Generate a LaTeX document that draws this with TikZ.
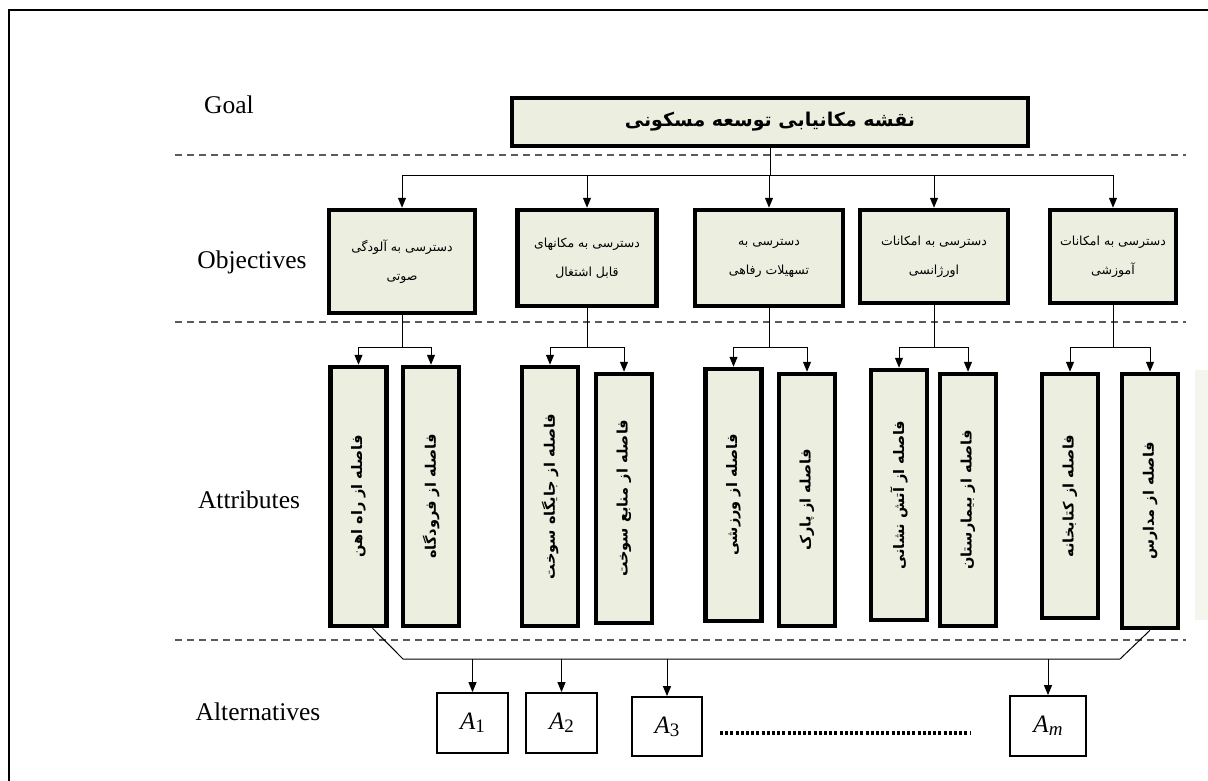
\documentclass[tikz,border=0pt]{standalone}
\usepackage{fontspec}
\setmainfont{Liberation Serif}
\newfontfamily\fa[Script=Arabic]{DejaVu Sans}
\TeXXeTstate=1
\usetikzlibrary{arrows.meta,calc}
\definecolor{boxfill}{RGB}{236,239,224}
\definecolor{dashgray}{RGB}{90,90,90}
\tikzset{
  x=1pt, y=-1pt,
  goalbox/.style={draw, line width=4.5pt, fill=boxfill, inner sep=0pt, minimum width=516pt, minimum height=48pt, font=\fa\bfseries\fontsize{19}{22}\selectfont},
  objbox/.style={draw, line width=4.5pt, fill=boxfill, inner sep=0pt, align=center, font=\fa\fontsize{12.5}{29}\selectfont},
  attbox/.style={draw, line width=4.5pt, fill=boxfill, inner sep=0pt, minimum width=56pt},
  atttext/.style={rotate=90, font=\fa\bfseries\fontsize{14.5}{16}\selectfont},
  altbox/.style={draw, line width=1.8pt, fill=white, inner sep=0pt, font=\fontsize{25}{27}\selectfont},
  lvl/.style={font=\fontsize{25.5}{28}\selectfont},
  sep/.style={dashgray, line width=1.4pt, dash pattern=on 7pt off 5pt},
  conn/.style={line width=1pt},
  arr/.style={line width=1pt, -{Triangle[width=8pt,length=10pt]}}
}
\newcommand{\RL}[1]{\beginR #1\endR}
\newcommand{\Alt}[1]{\textit{A}\raisebox{-0.25ex}{\fontsize{19}{21}\selectfont #1}}
\begin{document}
\begin{tikzpicture}
\useasboundingbox (0,0) rectangle (1208,780);
\fill[white] (0,0) rectangle (1208,780);
% frame
\draw[line width=2.5pt] (9,785) -- (9,10) -- (1215,10);
% faint partial box at right
\fill[boxfill!60] (1195,370) rectangle (1208,620);

% level labels
\node[lvl] (lgoal) at (229,105) {Goal};
\node[lvl] (lobj) at (252,262) {Objectives};
\node[lvl] (latt) at (249,500) {Attributes};
\node[lvl] (lalt) at (258,712) {Alternatives};

% separators
\coordinate (s1l) at (175,155); \coordinate (s1r) at (1186,155);
\coordinate (s2l) at (175,322); \coordinate (s2r) at (1186,322);
\coordinate (s3l) at (175,640); \coordinate (s3r) at (1186,640);
\draw[sep] (s1l) -- (s1r);
\draw[sep] (s2l) -- (s2r);
\draw[sep] (s3l) -- (s3r);

% goal
\node[goalbox] (goal) at (770,122) {\RL{نقشه مکانیابی توسعه مسکونی}};

% objectives
\node[objbox, minimum width=146pt, minimum height=103pt] (o1) at (402,261.5) {\RL{دسترسی به آلودگی}\\\RL{صوتی}};
\node[objbox, minimum width=139pt, minimum height=96pt] (o2) at (587,258) {\RL{دسترسی به مکانهای}\\\RL{قابل اشتغال}};
\node[objbox, minimum width=148pt, minimum height=96pt] (o3) at (769,258) {\RL{دسترسی به}\\\RL{تسهیلات رفاهی}};
\node[objbox, minimum width=148pt, minimum height=93pt] (o4) at (934,256.5) {\RL{دسترسی به امکانات}\\\RL{اورژانسی}};
\node[objbox, minimum width=126pt, minimum height=93pt] (o5) at (1113,256.5) {\RL{دسترسی به امکانات}\\\RL{آموزشی}};

% goal -> objectives
\coordinate (bus) at (770,175);
\draw[conn] (goal.south) -- (bus);
\draw[conn] (o1.north |- bus) -- (o5.north |- bus);
\foreach \o in {o1,o2,o3,o4,o5} \draw[arr] (\o.north |- bus) -- (\o.north);

% attributes
\node[attbox, minimum height=259pt] (a1) at (358.5,496.5) {};
\node[attbox, minimum height=259pt] (a2) at (431,496.5) {};
\node[attbox, minimum height=259pt] (a3) at (550,496.5) {};
\node[attbox, minimum height=249pt] (a4) at (624,498.5) {};
\node[attbox, minimum height=252pt] (a5) at (733.5,495) {};
\node[attbox, minimum height=252pt] (a6) at (807,500) {};
\node[attbox, minimum height=250pt] (a7) at (899,495) {};
\node[attbox, minimum height=252pt] (a8) at (968,500) {};
\node[attbox, minimum height=244pt] (a9) at (1070,496) {};
\node[attbox, minimum height=254pt] (a10) at (1150,501) {};

\node[atttext] (t1) at (a1) {\RL{فاصله از راه اهن}};
\node[atttext] (t2) at (a2) {\RL{فاصله از فرودگاه}};
\node[atttext] (t3) at (a3) {\RL{فاصله از جایگاه سوخت}};
\node[atttext] (t4) at (a4) {\RL{فاصله از منابع سوخت}};
\node[atttext] (t5) at (a5) {\RL{فاصله از ورزشی}};
\node[atttext] (t6) at (a6) {\RL{فاصله از پارک}};
\node[atttext] (t7) at (a7) {\RL{فاصله از آتش نشانی}};
\node[atttext] (t8) at (a8) {\RL{فاصله از بیمارستان}};
\node[atttext] (t9) at (a9) {\RL{فاصله از کتابخانه}};
\node[atttext] (t10) at (a10) {\RL{فاصله از مدارس}};

% objectives -> attributes
\coordinate (br) at (0,347);
\foreach \o/\l/\r in {o1/a1/a2, o2/a3/a4, o3/a5/a6, o4/a7/a8, o5/a9/a10} {
  \draw[conn] (\o.south) -- (\o.south |- br);
  \draw[conn] (\l.north |- br) -- (\r.north |- br);
  \draw[arr] (\l.north |- br) -- (\l.north);
  \draw[arr] (\r.north |- br) -- (\r.north);
}

% alternatives
\node[altbox, minimum width=71pt, minimum height=60pt] (A1) at (472.5,723) {\Alt{1}};
\node[altbox, minimum width=71pt, minimum height=60pt] (A2) at (561.5,723) {\Alt{2}};
\node[altbox, minimum width=70pt, minimum height=59pt] (A3) at (667,726.5) {\Alt{3}};
\node[altbox, minimum width=76pt, minimum height=60pt] (Am) at (1048,726) {\Alt{\textit{m}}};

% attributes -> alternatives
\coordinate (bl) at (403,659);
\coordinate (brr) at (1120,659);
\draw[conn] ($(a1.south)+(14,0)$) -- (bl) -- (brr) -- (a10.south);
\foreach \a in {A1,A2,A3,Am} \draw[arr] (\a.north |- bl) -- (\a.north);

% dotted ellipsis
\coordinate (d1) at (720,733); \coordinate (d2) at (970,733);
\draw[line width=3.5pt, dash pattern=on 3pt off 2.2pt] (d1) -- (d2);
\end{tikzpicture}
\end{document}
